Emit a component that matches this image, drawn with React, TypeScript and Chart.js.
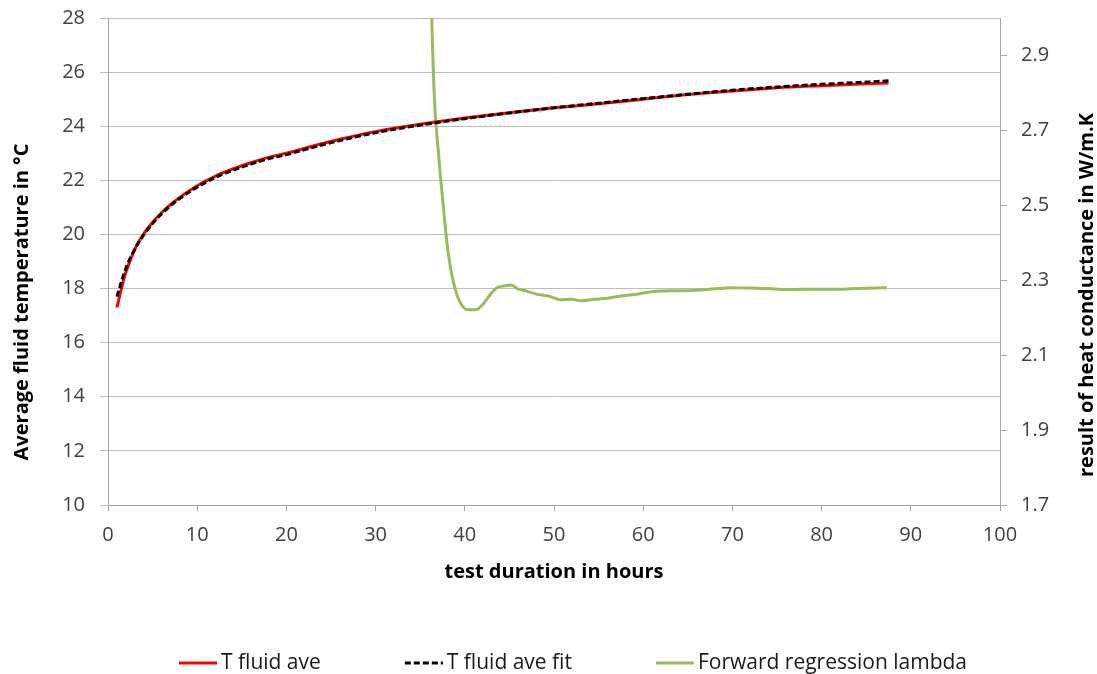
import { useEffect, useRef } from 'react';
import { Chart, registerables } from 'chart.js';

Chart.register(...registerables);

// ---- data ----
const timeHours = [1, 1.5, 2, 3, 4, 5, 6, 7, 8, 10, 12, 14, 16, 18, 20, 23, 26, 30, 35, 40, 45, 50, 55, 60, 65, 70, 75, 80, 85, 87.5];
const tFluidAve = [17.3, 18.0, 18.6, 19.45, 20.02, 20.45, 20.8, 21.1, 21.36, 21.8, 22.15, 22.42, 22.65, 22.85, 23.0, 23.27, 23.52, 23.8, 24.07, 24.3, 24.5, 24.68, 24.83, 25.0, 25.17, 25.3, 25.42, 25.5, 25.57, 25.6];
const tFluidAveFit = [17.7, 18.25, 18.75, 19.45, 19.98, 20.4, 20.76, 21.06, 21.32, 21.75, 22.1, 22.37, 22.6, 22.8, 22.95, 23.22, 23.47, 23.76, 24.04, 24.28, 24.49, 24.68, 24.85, 25.02, 25.18, 25.33, 25.45, 25.55, 25.63, 25.68];
const lambdaHours = [36.0, 36.3, 36.6, 36.9, 37.3, 37.7, 38.1, 38.5, 39.0, 39.5, 40.2, 41.2, 42.0, 42.8, 43.6, 44.5, 45.2, 46.0, 46.8, 48.0, 49.5, 50.7, 52.0, 53.0, 54.5, 56.0, 57.5, 59.0, 60.5, 62.0, 64.0, 66.0, 68.0, 70.0, 72.0, 74.0, 76.0, 78.0, 80.0, 82.0, 84.0, 86.0, 87.3];
const lambdaValues = [3.4, 3.0, 2.78, 2.68, 2.57, 2.47, 2.38, 2.32, 2.27, 2.24, 2.222, 2.221, 2.235, 2.26, 2.28, 2.285, 2.287, 2.276, 2.272, 2.263, 2.257, 2.248, 2.249, 2.245, 2.249, 2.252, 2.258, 2.262, 2.268, 2.271, 2.272, 2.273, 2.277, 2.28, 2.279, 2.278, 2.275, 2.276, 2.276, 2.276, 2.278, 2.279, 2.28];
const rightTicks = [1.7, 1.9, 2.1, 2.3, 2.5, 2.7, 2.9];
const seriesLabels = ['T fluid ave', 'T fluid ave fit', 'Forward regression lambda'];
const xTitle = 'test duration in hours';
const leftTitle = 'Average fluid temperature in °C';
const rightTitle = 'result of heat conductance in W/m.K';

const FONT = "'Open Sans', 'Noto Sans', sans-serif";
const TICK_COLOR = '#404040';
const AXIS_COLOR = '#a6a6a6';
const GRID_COLOR = '#bdbdbd';

const overlayPlugin = {
  id: 'overlay',
  afterDraw(chart: any) {
    const ctx = chart.ctx as CanvasRenderingContext2D;
    ctx.save();
    // vertical axis titles (both read bottom-to-top)
    ctx.font = `bold 20px ${FONT}`;
    ctx.fillStyle = '#000';
    ctx.textAlign = 'center';
    ctx.textBaseline = 'middle';
    ctx.save();
    ctx.translate(22, 302);
    ctx.rotate(-Math.PI / 2);
    ctx.fillText(leftTitle, 0, 0);
    ctx.restore();
    ctx.save();
    ctx.translate(1087, 295);
    ctx.rotate(-Math.PI / 2);
    ctx.fillText(rightTitle, 0, 0);
    ctx.restore();

    // legend
    ctx.font = `21px ${FONT}`;
    ctx.textAlign = 'left';
    ctx.fillStyle = '#1a1a1a';
    const y = 663;
    let x = 179;
    chart.data.datasets.forEach((ds: any) => {
      ctx.save();
      ctx.strokeStyle = ds.borderColor;
      ctx.lineWidth = ds.borderWidth;
      ctx.setLineDash(ds.borderDash || []);
      ctx.beginPath();
      ctx.moveTo(x, y);
      ctx.lineTo(x + 38, y);
      ctx.stroke();
      ctx.restore();
      ctx.fillText(ds.label, x + 42, y);
      x += 42 + ctx.measureText(ds.label).width + 84;
    });
    ctx.restore();
  },
};

export default function App() {
  const canvasRef = useRef<HTMLCanvasElement | null>(null);

  useEffect(() => {
    if (!canvasRef.current) return;
    const redData = timeHours.map((t, i) => ({ x: t, y: tFluidAve[i] }));
    const fitData = timeHours.map((t, i) => ({ x: t, y: tFluidAveFit[i] }));
    const lambdaData = lambdaHours.map((t, i) => ({ x: t, y: lambdaValues[i] }));

    const chart = new Chart(canvasRef.current, {
      type: 'line',
      data: {
        datasets: [
          {
            label: seriesLabels[0],
            data: redData,
            borderColor: '#ff0000',
            backgroundColor: '#ff0000',
            borderWidth: 3,
            pointRadius: 0,
            cubicInterpolationMode: 'monotone',
            yAxisID: 'y',
            order: 1,
            clip: 0,
          },
          {
            label: seriesLabels[1],
            data: fitData,
            borderColor: '#000000',
            backgroundColor: '#000000',
            borderWidth: 3,
            borderDash: [6, 3],
            pointRadius: 0,
            cubicInterpolationMode: 'monotone',
            yAxisID: 'y',
            order: 0,
            clip: 0,
          },
          {
            label: seriesLabels[2],
            data: lambdaData,
            borderColor: '#9bbb59',
            backgroundColor: '#9bbb59',
            borderWidth: 3,
            pointRadius: 0,
            cubicInterpolationMode: 'monotone',
            yAxisID: 'y1',
            order: 2,
            clip: 0,
          },
        ],
      },
      options: {
        animation: false,
        responsive: false,
        events: [],
        layout: { padding: { top: 18, left: 0, right: 0, bottom: 0 } },
        plugins: {
          legend: { display: false },
          tooltip: { enabled: false },
        },
        scales: {
          x: {
            type: 'linear',
            position: 'bottom',
            min: 0,
            max: 100,
            ticks: { stepSize: 10, padding: 12, color: TICK_COLOR, font: { family: FONT, size: 20 }, maxRotation: 0 },
            grid: { drawOnChartArea: false, drawTicks: true, tickLength: 6, color: AXIS_COLOR },
            border: { color: AXIS_COLOR },
            title: {
              display: true,
              text: xTitle,
              color: '#000',
              font: { family: FONT, size: 20, weight: 'bold' },
              padding: { top: 0, bottom: 90 },
            },
            afterFit: (s: any) => { s.height = 169; s.paddingLeft = 0; s.paddingRight = 0; },
          },
          y: {
            type: 'linear',
            position: 'left',
            min: 10,
            max: 28,
            ticks: { stepSize: 2, padding: 15, color: TICK_COLOR, font: { family: FONT, size: 20 } },
            grid: { color: GRID_COLOR, tickLength: 8 },
            border: { color: AXIS_COLOR },
            afterFit: (s: any) => { s.width = 108; s.paddingTop = 0; s.paddingBottom = 0; },
          },
          y1: {
            type: 'linear',
            position: 'right',
            min: 1.7,
            max: 3.0,
            afterBuildTicks: (s: any) => { s.ticks = rightTicks.map((v) => ({ value: v })); },
            ticks: {
              padding: 14,
              color: TICK_COLOR,
              font: { family: FONT, size: 20 },
              callback: (v: any) => Number(v).toFixed(1),
            },
            grid: { drawOnChartArea: false, tickLength: 7, color: AXIS_COLOR },
            border: { color: AXIS_COLOR },
            afterFit: (s: any) => { s.width = 97; s.paddingTop = 0; s.paddingBottom = 0; },
          },
        },
      } as any,
      plugins: [overlayPlugin],
    });
    return () => chart.destroy();
  }, []);

  return (
    <div style={{ position: 'fixed', left: 0, top: 0, width: 1097, height: 674, background: '#fff' }}>
      <canvas ref={canvasRef} width={1097} height={674} />
    </div>
  );
}
